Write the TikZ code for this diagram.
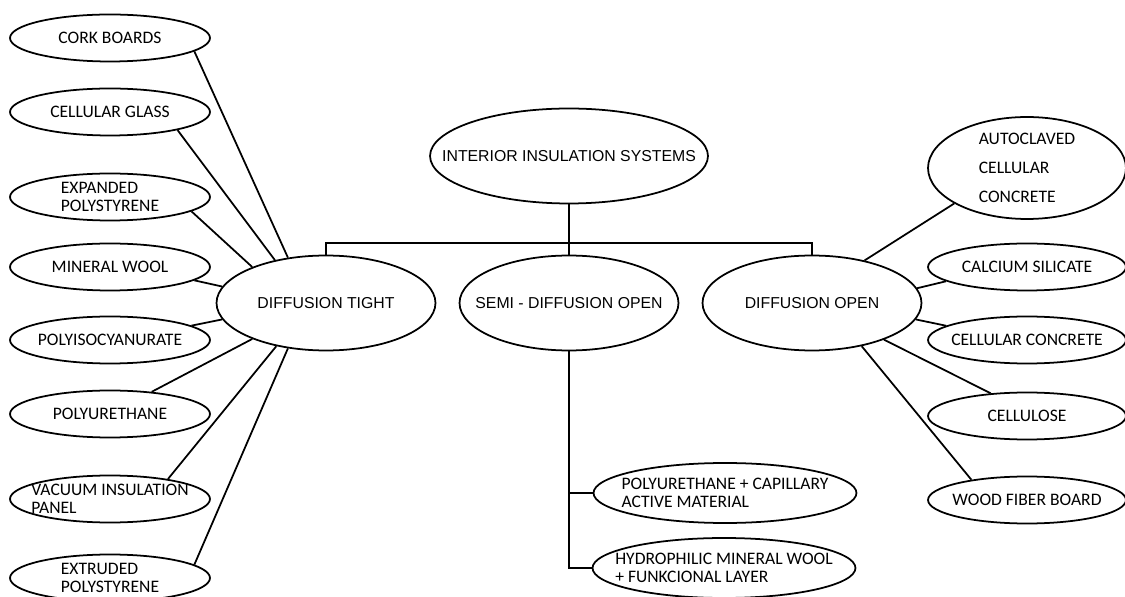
\documentclass[tikz,border=0pt]{standalone}
\usepackage{fontspec}
\setmainfont{Carlito}
\newfontfamily\arialfont{Liberation Sans}
\usetikzlibrary{shapes.geometric}
\tikzset{
    leaf/.style = {draw, ellipse, line width=1pt, inner sep=-2cm,
        minimum width=4cm, minimum height=0.94cm, align=left,
        font=\fontsize{10pt}{10.5pt}\selectfont},
    rleaf/.style = {leaf, minimum width=3.96cm},
    wideleaf/.style = {leaf, minimum width=5.26cm, minimum height=1.2cm},
    group/.style = {draw, ellipse, line width=1pt, inner sep=-2cm,
        minimum width=4.38cm, minimum height=1.9cm,
        font=\arialfont\fontsize{9pt}{11pt}\selectfont},
    link/.style = {draw, line width=1pt}
}

\begin{document}
\begin{tikzpicture}[x=0.02cm, y=-0.02cm]
    \useasboundingbox (0,0) rectangle (1125,597);
    \node [group, minimum width=5.56cm] (root) at (569,156) {INTERIOR INSULATION SYSTEMS};
    \node [group] (tight) at (326,303) {DIFFUSION TIGHT};
    \node [group] (semi) at (569,303) {SEMI - DIFFUSION OPEN};
    \node [group] (open) at (812,303) {DIFFUSION OPEN};
    \coordinate (bar) at (569,243);
    \draw [link] (root.south) -- (semi.north);
    \draw [link] (tight.north) |- (bar) -| (open.north);

    \node [leaf] (cork) at (110,38) {CORK BOARDS};
    \node [leaf] (glass) at (110,112) {CELLULAR GLASS};
    \node [leaf] (eps) at (110,197) {EXPANDED\\POLYSTYRENE};
    \node [leaf] (mwool) at (110,267) {MINERAL WOOL};
    \node [leaf] (pir) at (110,340) {POLYISOCYANURATE};
    \node [leaf] (pur) at (110,414) {POLYURETHANE};
    \node [leaf] (vip) at (110,499) {VACUUM INSULATION\\PANEL};
    \node [leaf] (xps) at (110,578) {EXTRUDED\\POLYSTYRENE};
    \draw [link] (cork.-9) -- (tight.130);
    \draw [link] (glass.-15) -- (tight.140);
    \draw [link] (eps.-10) -- (tight.154);
    \draw [link] (mwool.-9) -- (tight.171);
    \draw [link] (pir.10) -- (tight.189);
    \draw [link] (pur.28) -- (tight.206);
    \draw [link] (vip.19) -- (tight.221);
    \draw [link] (xps.9) -- (tight.230);

    \node [wideleaf] (purcap) at (725,493) {POLYURETHANE + CAPILLARY\\ACTIVE MATERIAL};
    \node [wideleaf] (hydro) at (724,568) {HYDROPHILIC MINERAL WOOL\\+ FUNKCIONAL LAYER};
    \draw [link] (semi.south) |- (purcap.west);
    \draw [link] (semi.south) |- (hydro.west);

    \node [rleaf, minimum height=2.04cm, font=\fontsize{10pt}{16.5pt}\selectfont] (aac) at (1027,168) {AUTOCLAVED\\CELLULAR\\CONCRETE};
    \node [rleaf] (casi) at (1027,267) {CALCIUM SILICATE};
    \node [rleaf] (cc) at (1027,340) {CELLULAR CONCRETE};
    \node [rleaf] (cell) at (1027,416) {CELLULOSE};
    \node [rleaf] (wfb) at (1027,500) {WOOD FIBER BOARD};
    \draw [link] (open.39) -- (aac.206);
    \draw [link] (open.8) -- (casi.190);
    \draw [link] (open.-9) -- (cc.170);
    \draw [link] (open.-27) -- (cell.148);
    \draw [link] (open.-41) -- (wfb.160);
\end{tikzpicture}
\end{document}
